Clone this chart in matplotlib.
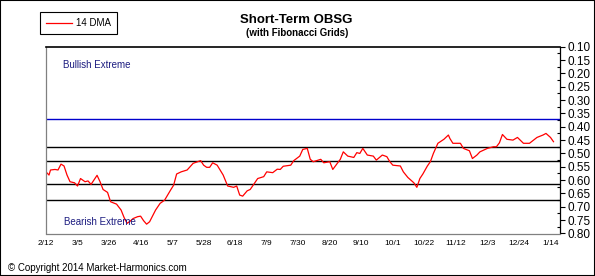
import matplotlib
matplotlib.use('Agg')
import matplotlib.pyplot as plt
import matplotlib.dates as mdates
from matplotlib.patches import Rectangle
import pandas as pd

plt.rcParams['font.family'] = ['Liberation Sans', 'DejaVu Sans']

# 14 DMA of the OBSG (days after 2013-02-12, value)
start_date = '2013-02-12'
days = [0, 2, 3, 6, 8, 10, 12, 14, 16, 19, 21, 23, 26, 28, 30, 32, 34, 36, 38, 41,
        43, 47, 50, 52, 54, 56, 58, 61, 63, 65, 67, 69, 73, 76, 79, 83, 85, 87, 90, 94,
        98, 103, 105, 107, 109, 111, 114, 118, 121, 125, 127, 129, 131, 134, 136, 141, 145, 147, 151, 154,
        156, 158, 163, 165, 169, 171, 174, 176, 178, 183, 185, 189, 191, 196, 198, 201, 205, 207, 209, 211,
        214, 218, 220, 224, 227, 229, 231, 236, 238, 241, 243, 245, 247, 249, 251, 254, 256, 258, 261, 265,
        268, 269, 271, 276, 278, 282, 284, 287, 289, 294, 298, 300, 302, 304, 307, 311, 314, 318, 322, 327,
        331, 333, 336, 338]
dma = [0.569, 0.581, 0.562, 0.560, 0.562, 0.540, 0.547, 0.581, 0.606, 0.610, 0.622, 0.594, 0.606, 0.603, 0.616, 0.599, 0.582, 0.606, 0.635, 0.646,
       0.681, 0.690, 0.712, 0.740, 0.762, 0.754, 0.744, 0.737, 0.735, 0.752, 0.765, 0.756, 0.712, 0.687, 0.675, 0.637, 0.619, 0.577, 0.569, 0.562,
       0.537, 0.527, 0.544, 0.552, 0.552, 0.535, 0.544, 0.581, 0.622, 0.627, 0.622, 0.656, 0.660, 0.640, 0.635, 0.594, 0.587, 0.569, 0.572, 0.559,
       0.560, 0.548, 0.544, 0.527, 0.510, 0.485, 0.481, 0.522, 0.531, 0.522, 0.535, 0.531, 0.560, 0.522, 0.494, 0.510, 0.515, 0.497, 0.500, 0.481,
       0.506, 0.510, 0.525, 0.506, 0.512, 0.531, 0.544, 0.547, 0.569, 0.590, 0.600, 0.610, 0.627, 0.594, 0.577, 0.547, 0.531, 0.500, 0.462, 0.447,
       0.431, 0.444, 0.462, 0.462, 0.481, 0.490, 0.519, 0.506, 0.494, 0.481, 0.475, 0.475, 0.460, 0.429, 0.447, 0.450, 0.440, 0.462, 0.462, 0.440,
       0.431, 0.425, 0.440, 0.456]

# grid levels
bull_level = 0.372
fib_levels = [0.477, 0.530, 0.616, 0.675]

tick_dates = ['2013-02-12', '2013-03-05', '2013-03-26', '2013-04-16', '2013-05-07', '2013-05-28',
              '2013-06-18', '2013-07-09', '2013-07-30', '2013-08-20', '2013-09-10', '2013-10-01',
              '2013-10-22', '2013-11-12', '2013-12-03', '2013-12-24', '2014-01-14']
tick_labels = ['2/12', '3/5', '3/26', '4/16', '5/7', '5/28', '6/18', '7/9', '7/30', '8/20',
               '9/10', '10/1', '10/22', '11/12', '12/3', '12/24', '1/14']
y_ticks = [0.10, 0.15, 0.20, 0.25, 0.30, 0.35, 0.40, 0.45, 0.50, 0.55, 0.60, 0.65, 0.70, 0.75, 0.80]

dates = pd.Timestamp(start_date) + pd.to_timedelta(days, unit='D')
t0 = pd.Timestamp(start_date)

fig = plt.figure(figsize=(5.95, 2.76), dpi=100)
ax = fig.add_axes([46 / 595, 1 - 233.5 / 276, (559.5 - 46) / 595, (233.5 - 46.7) / 276])

ax.axhline(bull_level, color='#0000cc', lw=1.0)
for lv in fib_levels:
    ax.axhline(lv, color='black', lw=1.0)
line, = ax.plot(dates, dma, color='#ff0000', lw=0.9, label='14 DMA')

ax.set_xlim(t0, t0 + pd.Timedelta(days=342))
ax.set_ylim(0.80, 0.10)

ax.text(t0 + pd.Timedelta(days=11.5), 0.169, 'Bullish Extreme', color='#1c1c80', fontsize=7, va='center')
ax.text(t0 + pd.Timedelta(days=12.3), 0.758, 'Bearish Extreme', color='#1c1c80', fontsize=7, va='center')

ax.yaxis.tick_right()
ax.set_yticks(y_ticks)
ax.set_yticklabels(['%.2f' % v for v in y_ticks], fontsize=8.5)
ax.set_yticks([v + 0.025 for v in y_ticks[:-1]], minor=True)
ax.tick_params(axis='y', which='major', direction='out', length=3.5, width=0.8, pad=2)
ax.tick_params(axis='y', which='minor', direction='in', length=2, width=0.8)

ax.set_xticks([pd.Timestamp(d) for d in tick_dates])
ax.set_xticklabels(tick_labels, fontsize=6)
ax.tick_params(axis='x', length=0, pad=5)

ax.spines['left'].set_color('#808080')
ax.spines['bottom'].set_color('#808080')
ax.spines['top'].set_color('black')
ax.spines['right'].set_color('black')
for s in ax.spines.values():
    s.set_linewidth(0.9)
ax.spines['top'].set_linewidth(1.2)

fig.text(296.7 / 595, 1 - 20 / 276, 'Short-Term OBSG', ha='center', va='center',
         fontsize=9.5, fontweight='bold')
fig.text(296.7 / 595, 1 - 33 / 276, '(with Fibonacci Grids)', ha='center', va='center',
         fontsize=7, fontweight='bold')
fig.text(8 / 595, 1 - 268.3 / 276, '\u00a9 Copyright 2014 Market-Harmonics.com', ha='left', va='center',
         fontsize=7)

fig.legend(handles=[line], loc='upper left', bbox_to_anchor=(40 / 595, 1 - 12.3 / 276),
           fontsize=7, frameon=True, fancybox=False, edgecolor='black', framealpha=1,
           borderaxespad=0, borderpad=0.6, handlelength=2.7, handletextpad=0.4).get_frame().set_linewidth(0.8)

fig.add_artist(Rectangle((0, 0), 1, 1, transform=fig.transFigure, fill=False,
                         edgecolor='black', lw=1.5, clip_on=False))

fig.savefig('out.png', dpi=100)
